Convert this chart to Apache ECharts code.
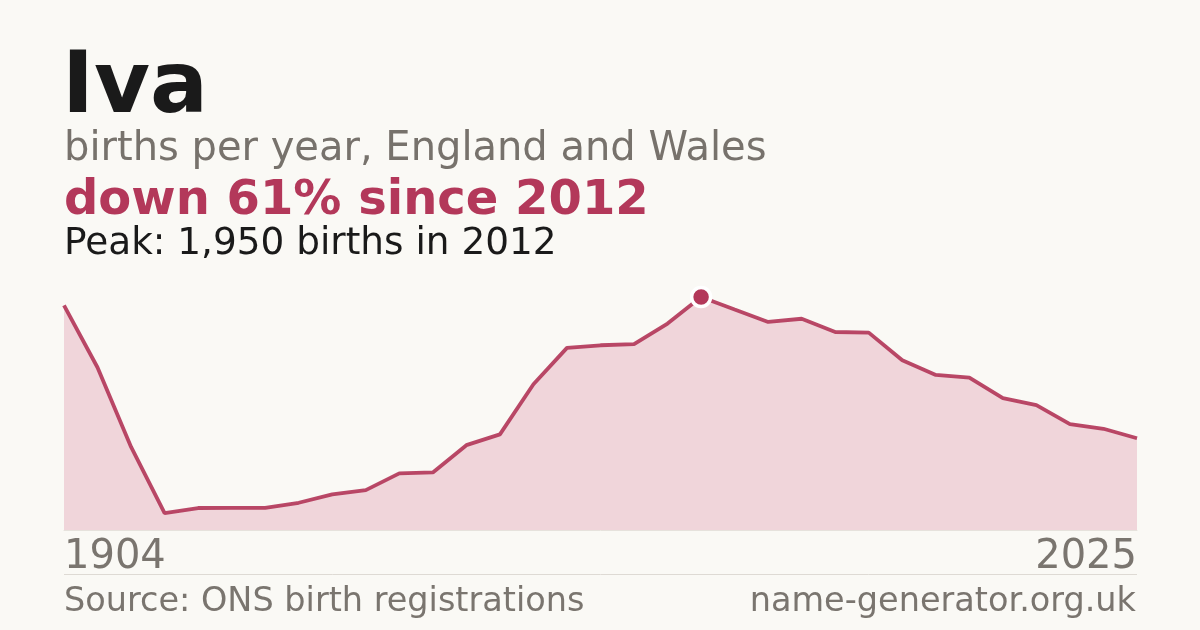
<!DOCTYPE html>
<html><head><meta charset="utf-8">
<script src="https://cdn.jsdelivr.net/npm/echarts@6/dist/echarts.min.js"></script>
<style>html,body{margin:0;padding:0;background:#faf9f5}#c{width:1200px;height:630px}</style>
</head><body><div id="c"></div>
<script>
const years = [1904, 1944, 1974, 1996, 1997, 1998, 1999, 2000, 2001, 2002, 2003, 2004, 2005, 2006, 2007, 2008, 2009, 2010, 2011, 2012, 2013, 2014, 2015, 2016, 2017, 2018, 2019, 2020, 2021, 2022, 2023, 2024, 2025];
const births = [1880, 1360, 695, 142, 184, 186, 186, 228, 298, 334, 474, 482, 710, 800, 1220, 1524, 1546, 1555, 1728, 1950, 1845, 1741, 1768, 1657, 1652, 1421, 1298, 1276, 1103, 1045, 886, 847, 768];
const titleText = 'Iva';
const subtitleText = 'births per year, England and Wales';
const changeText = 'down 61% since 2012';
const peakText = 'Peak: 1,950 births in 2012';
const sourceText = 'Source: ONS birth registrations';
const siteText = 'name-generator.org.uk';

const FONT = 'DejaVu Sans';
const RED = '#b3385a';
const chart = echarts.init(document.getElementById('c'));
chart.setOption({
  backgroundColor: '#faf9f5',
  animation: false,
  grid: { left: 64, right: 63, top: 297, bottom: 100 },
  xAxis: {
    type: 'category', data: years, boundaryGap: false,
    axisLine: { show: true, lineStyle: { color: '#e6e2dc', width: 1 } },
    axisTick: { show: false }, axisLabel: { show: false }, splitLine: { show: false }
  },
  yAxis: { type: 'value', min: 0, max: 1950, show: false, splitLine: { show: false } },
  series: [{
    type: 'line', data: births, showSymbol: false, clip: false,
    lineStyle: { color: RED, width: 3.8, opacity: 0.92 },
    areaStyle: { color: '#f0d5da', opacity: 1 },
    markPoint: {
      data: [{ type: 'max' }], symbol: 'circle', symbolSize: 19,
      label: { show: false },
      itemStyle: { color: RED, borderColor: '#ffffff', borderWidth: 3.5 }
    }
  }],
  graphic: [
    { type: 'text', left: 62, top: 47, style: { text: titleText, font: 'bold 86px "' + FONT + '"', fill: '#1a1a1a' } },
    { type: 'text', left: 64, top: 130, style: { text: subtitleText, font: '40px "' + FONT + '"', fill: '#77726c' } },
    { type: 'text', left: 64, top: 178, style: { text: changeText, font: 'bold 48px "' + FONT + '"', fill: RED } },
    { type: 'text', left: 64, top: 226, style: { text: peakText, font: '37.4px "' + FONT + '"', fill: '#1a1a1a' } },
    { type: 'text', left: 64, top: 538, style: { text: String(years[0]), font: '40px "' + FONT + '"', fill: '#7a756f' } },
    { type: 'text', right: 63, top: 538, style: { text: String(years[years.length - 1]), font: '40px "' + FONT + '"', fill: '#7a756f' } },
    { type: 'line', shape: { x1: 64, y1: 574.5, x2: 1137, y2: 574.5 }, style: { stroke: '#dedad4', lineWidth: 1 } },
    { type: 'text', left: 64, top: 585, style: { text: sourceText, font: '33.5px "' + FONT + '"', fill: '#7a756f' } },
    { type: 'text', right: 64, top: 585, style: { text: siteText, font: '33.5px "' + FONT + '"', fill: '#7a756f' } }
  ]
});
</script></body></html>
